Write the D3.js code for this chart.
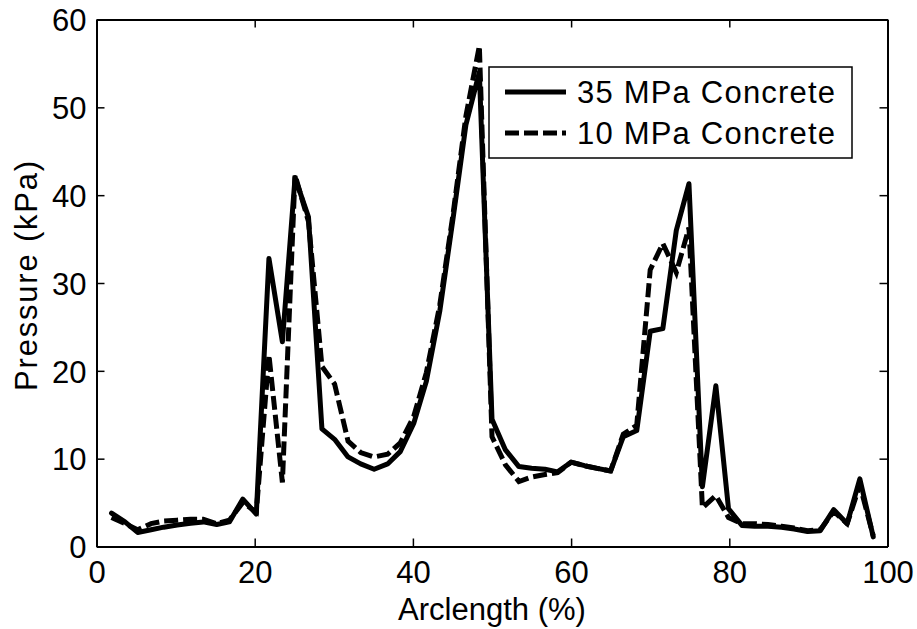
<!DOCTYPE html>
<html>
<head>
<meta charset="utf-8">
<script src="https://cdn.jsdelivr.net/npm/d3@7"></script>
<style>
  html, body { margin: 0; padding: 0; background: #fff; }
  svg { display: block; }
  text { font-family: "Liberation Sans", Arial, Helvetica, sans-serif; fill: #000; }
</style>
</head>
<body>
<svg id="chart" width="917" height="629"></svg>
<script>
// ---- Data ----
const arclength = [1.9, 3.6, 5.2, 6.9, 8.5, 10.2, 11.9, 13.5, 15.2, 16.8, 18.5, 20.2, 21.8, 23.5, 25.1, 26.8, 28.5, 30.1, 31.8, 33.4, 35.1, 36.8, 38.4, 40.1, 41.7, 43.4, 45.1, 46.7, 48.4, 50.0, 51.7, 53.4, 55.0, 56.7, 58.3, 60.0, 61.7, 63.3, 65.0, 66.6, 68.3, 70.0, 71.6, 73.3, 74.9, 76.6, 78.3, 79.9, 81.6, 83.2, 84.9, 86.6, 88.2, 89.9, 91.5, 93.2, 94.9, 96.5, 98.2];
const p35 = [3.8, 2.8, 1.6, 1.9, 2.2, 2.45, 2.65, 2.8, 2.5, 2.8, 5.4, 3.7, 32.8, 23.3, 42.0, 37.5, 13.4, 12.2, 10.2, 9.4, 8.8, 9.4, 10.8, 14.0, 18.8, 26.8, 37.5, 48.0, 54.0, 14.5, 11.0, 9.1, 8.9, 8.8, 8.5, 9.6, 9.2, 8.9, 8.6, 12.5, 13.2, 24.5, 24.8, 36.0, 41.3, 6.8, 18.3, 4.3, 2.4, 2.3, 2.3, 2.2, 2.0, 1.7, 1.8, 4.2, 2.6, 7.7, 1.1];
const p10 = [3.3, 2.6, 1.9, 2.6, 2.9, 3.0, 3.1, 3.1, 2.6, 3.0, 5.0, 3.9, 21.8, 7.3, 42.3, 37.0, 20.5, 18.5, 12.0, 10.7, 10.2, 10.5, 11.8, 14.8, 19.8, 27.5, 38.0, 49.0, 57.0, 12.5, 9.3, 7.4, 7.9, 8.2, 8.4, 9.6, 9.2, 8.9, 8.6, 12.8, 13.8, 31.5, 34.5, 31.2, 36.3, 4.4, 5.8, 3.3, 2.6, 2.6, 2.5, 2.3, 2.1, 1.8, 1.9, 4.0, 2.6, 7.0, 1.2];
const seriesNames = ["35 MPa Concrete", "10 MPa Concrete"];
const xTicks = [0, 20, 40, 60, 80, 100];
const yTicks = [0, 10, 20, 30, 40, 50, 60];
const xLabel = "Arclength (%)";
const yLabel = "Pressure (kPa)";

// ---- Layout ----
const svg = d3.select("#chart");
const L = 96.5, R = 887.5, T = 19.5, B = 546.5;
const x = d3.scaleLinear().domain([0, 100]).range([L, R]);
const y = d3.scaleLinear().domain([0, 60]).range([B, T]);
const tickLen = 8;
const fontSize = 31;
const lw = 5;

// Lines
const line = d3.line().x((d, i) => x(arclength[i])).y(d => y(d));
svg.append("clipPath").attr("id", "clip").append("rect")
  .attr("x", L).attr("y", T).attr("width", R - L).attr("height", B - T);

const g = svg.append("g").attr("clip-path", "url(#clip)");
g.append("path").datum(p35).attr("d", line)
  .attr("fill", "none").attr("stroke", "#000").attr("stroke-width", lw)
  .attr("stroke-linejoin", "round").attr("stroke-linecap", "round");
g.append("path").datum(p10).attr("d", line)
  .attr("fill", "none").attr("stroke", "#000").attr("stroke-width", lw)
  .attr("stroke-dasharray", "14,5").attr("stroke-linejoin", "miter");

// Axes (box with inward ticks on all sides)
const axB = svg.append("g").attr("transform", `translate(0,${B})`)
  .call(d3.axisBottom(x).tickValues(xTicks).tickSizeInner(-tickLen).tickSizeOuter(0).tickPadding(14));
const axT = svg.append("g").attr("transform", `translate(0,${T})`)
  .call(d3.axisTop(x).tickValues(xTicks).tickSizeInner(-tickLen).tickSizeOuter(0).tickFormat(""));
const axL = svg.append("g").attr("transform", `translate(${L},0)`)
  .call(d3.axisLeft(y).tickValues(yTicks).tickSizeInner(-tickLen).tickSizeOuter(0).tickPadding(10));
const axR = svg.append("g").attr("transform", `translate(${R},0)`)
  .call(d3.axisRight(y).tickValues(yTicks).tickSizeInner(-tickLen).tickSizeOuter(0).tickFormat(""));

[axB, axT, axL, axR].forEach(a => {
  a.select(".domain").attr("stroke", "#000").attr("stroke-width", 2);
  a.selectAll(".tick line").attr("stroke", "#000").attr("stroke-width", 1.5);
  a.selectAll(".tick text").style("font-size", fontSize + "px")
    .style("font-family", '"Liberation Sans", Arial, sans-serif').attr("fill", "#000");
});
axB.selectAll(".tick text").attr("dy", "0.71em");
axL.selectAll(".tick text").attr("dy", "0.36em");

// Axis labels
svg.append("text").attr("x", (L + R) / 2).attr("y", 620)
  .attr("text-anchor", "middle").style("font-size", fontSize + "px").text(xLabel);
svg.append("text").attr("transform", `translate(37,${(T + B) / 2 - 8}) rotate(-90)`)
  .attr("text-anchor", "middle").style("font-size", fontSize + "px")
  .style("letter-spacing", "1.8px").text(yLabel);

// Legend
const lg = svg.append("g");
lg.append("rect").attr("x", 489).attr("y", 67).attr("width", 363).attr("height", 91)
  .attr("fill", "#fff").attr("stroke", "#000").attr("stroke-width", 1.5);
const rowsY = [92, 133];
seriesNames.forEach((name, i) => {
  lg.append("line").attr("x1", 505).attr("x2", 566).attr("y1", rowsY[i]).attr("y2", rowsY[i])
    .attr("stroke", "#000").attr("stroke-width", lw)
    .attr("stroke-dasharray", i === 1 ? "14,5" : null);
  lg.append("text").attr("x", 577).attr("y", rowsY[i]).attr("dy", "0.36em")
    .style("font-size", fontSize + "px").style("letter-spacing", "1.2px").text(name);
});
</script>
</body>
</html>
